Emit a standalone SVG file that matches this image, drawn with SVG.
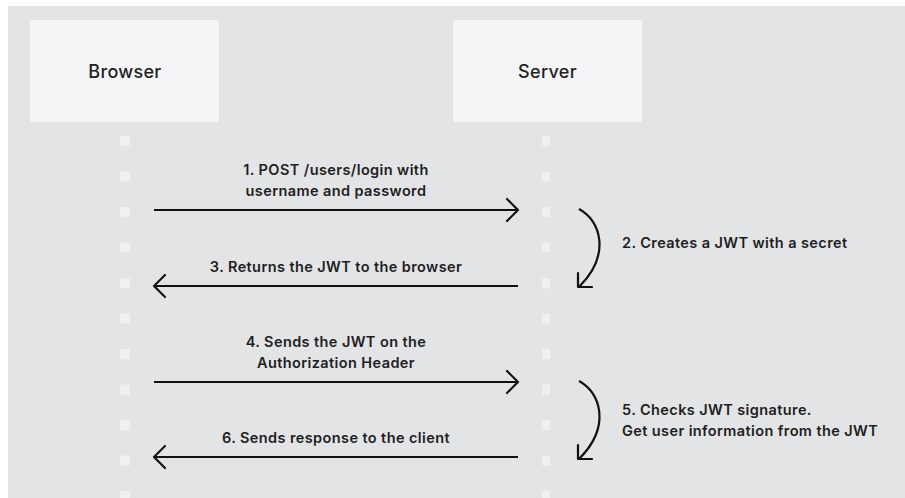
<svg xmlns="http://www.w3.org/2000/svg" width="905" height="498" viewBox="0 0 905 498">
<defs>
<style>
.bg{fill:#e3e4e6}
.box{fill:#f4f5f7}
.dot{fill:#eff0f2}
.title{font-family:Inter,"Liberation Sans",sans-serif;font-size:18px;font-weight:500;fill:#222;text-anchor:middle;letter-spacing:0.3px}
.lbl{font-family:Inter,"Liberation Sans",sans-serif;font-size:14.5px;font-weight:600;fill:#1e1e1e;letter-spacing:0.4px}
.mid{text-anchor:middle}
.ln{stroke:#111;stroke-width:2.2;fill:none}
.head{stroke:#111;stroke-width:2.2;fill:none;stroke-linecap:round;stroke-linejoin:round}
</style>
<pattern id="dots" x="0" y="136" width="20" height="35.5" patternUnits="userSpaceOnUse">
<rect width="10" height="10" class="dot"/>
</pattern>
</defs>
<rect width="905" height="498" fill="#ffffff"/>
<rect class="bg" x="8" y="6" width="897" height="492"/>
<g id="browser">
<rect class="box" x="30" y="20" width="189" height="102" rx="2"/>
<text class="title" x="125" y="78">Browser</text>
<rect x="120" y="136" width="10" height="362" fill="url(#dots)"/>
</g>
<g id="server">
<rect class="box" x="453" y="20" width="189" height="102" rx="2"/>
<text class="title" x="547.5" y="78">Server</text>
<rect x="542" y="136" width="11" height="362" fill="url(#dots)"/>
</g>
<g id="connectors">
<g id="c1">
<line class="ln" x1="154" y1="210" x2="517" y2="210"/>
<path class="head" d="M507,199 L518,210 L507,221"/>
<text class="lbl mid" x="336" y="175">1. POST /users/login with</text>
<text class="lbl mid" x="336" y="196">username and password</text>
</g>
<g id="c2">
<path class="ln" d="M579,209 C600,220 612,254 579,287"/>
<path class="head" d="M578,273 L578,287 L592,287"/>
<text class="lbl" x="622" y="248">2. Creates a JWT with a secret</text>
</g>
<g id="c3">
<line class="ln" x1="155" y1="286" x2="518" y2="286"/>
<path class="head" d="M165,275 L154,286 L165,297"/>
<text class="lbl mid" x="336" y="272">3. Returns the JWT to the browser</text>
</g>
<g id="c4">
<line class="ln" x1="154" y1="382" x2="517" y2="382"/>
<path class="head" d="M507,371 L518,382 L507,393"/>
<text class="lbl mid" x="336" y="347">4. Sends the JWT on the</text>
<text class="lbl mid" x="336" y="368">Authorization Header</text>
</g>
<g id="c5">
<path class="ln" d="M579,381 C600,392 612,426 579,459"/>
<path class="head" d="M578,445 L578,459 L592,459"/>
<text class="lbl" x="622" y="415">5. Checks JWT signature.</text>
<text class="lbl" x="622" y="436">Get user information from the JWT</text>
</g>
<g id="c6">
<line class="ln" x1="155" y1="457" x2="518" y2="457"/>
<path class="head" d="M165,446 L154,457 L165,468"/>
<text class="lbl mid" x="336" y="443">6. Sends response to the client</text>
</g>
</g>
</svg>
